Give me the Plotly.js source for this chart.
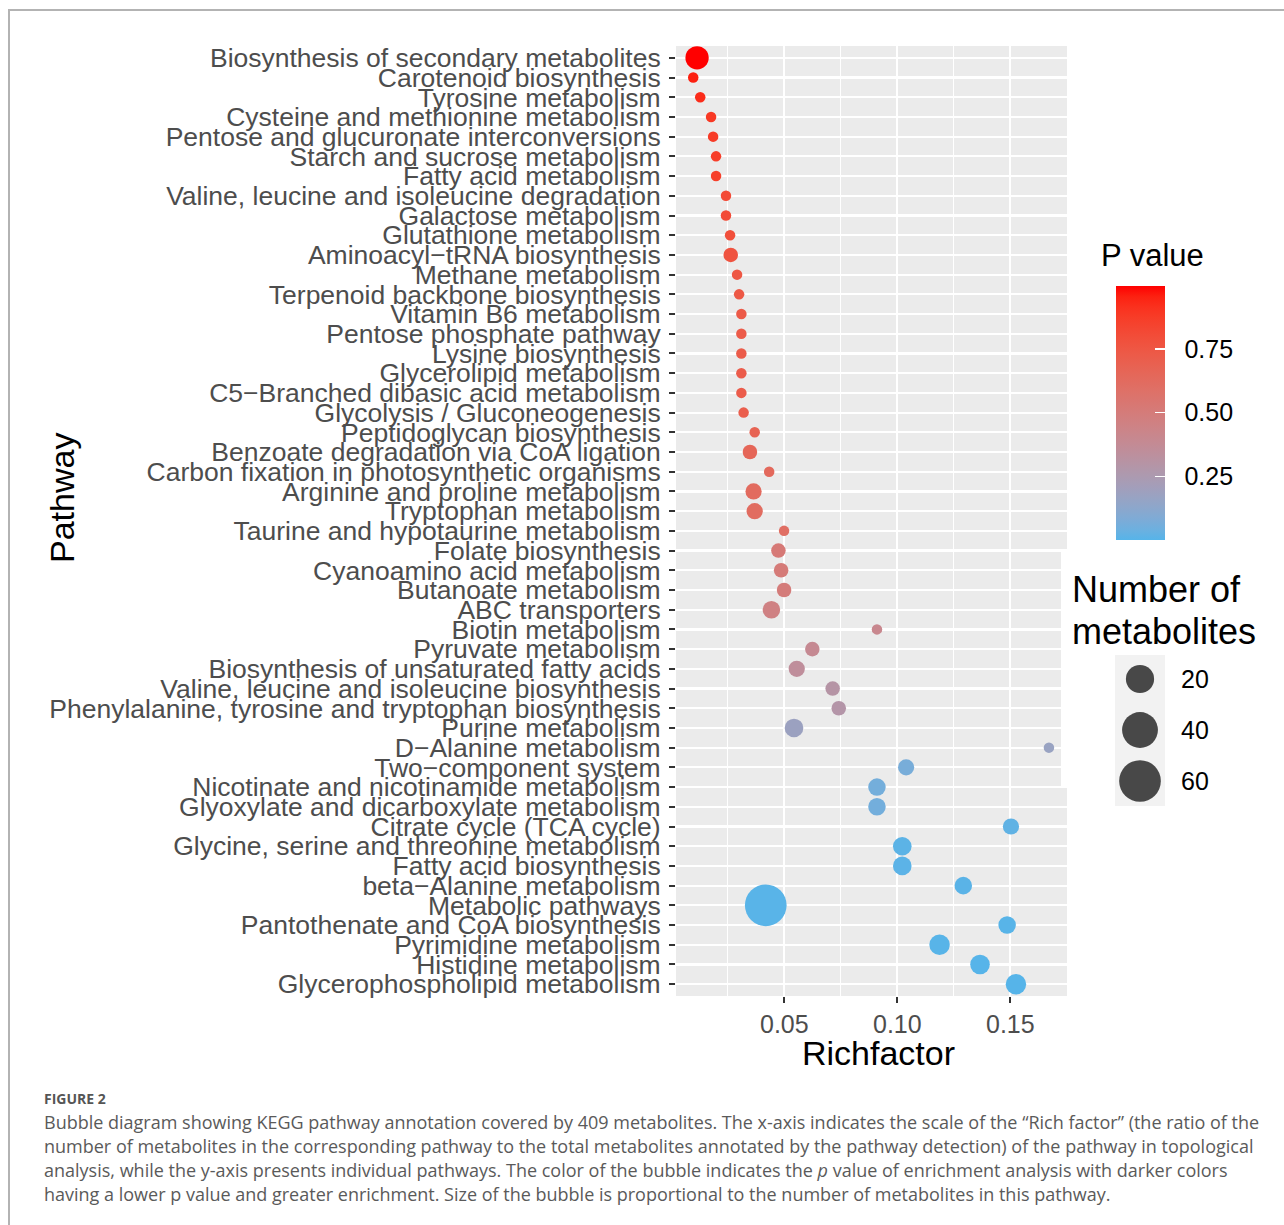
<!DOCTYPE html>
<html>
<head>
<meta charset="utf-8">
<script src="https://cdn.plot.ly/plotly-3.0.1.min.js"></script>
<style>
  html, body { margin: 0; padding: 0; background: #ffffff; }
  #wrap { position: relative; width: 1284px; height: 1225px; overflow: hidden; }
  #frame { position: absolute; left: 8px; top: 9px; width: 1400px; height: 1400px;
           border-left: 2px solid #B3B3B3; border-top: 2px solid #B3B3B3; }
  #chart { position: absolute; left: 0; top: 0; width: 1284px; height: 1225px; }
</style>
</head>
<body>
<div id="wrap"><div id="frame"></div><div id="chart"></div></div>
<script>
// KEGG pathways, listed from the top row of the chart to the bottom row
const pathways = [
  "Biosynthesis of secondary metabolites",
  "Carotenoid biosynthesis",
  "Tyrosine metabolism",
  "Cysteine and methionine metabolism",
  "Pentose and glucuronate interconversions",
  "Starch and sucrose metabolism",
  "Fatty acid metabolism",
  "Valine, leucine and isoleucine degradation",
  "Galactose metabolism",
  "Glutathione metabolism",
  "Aminoacyl\u2212tRNA biosynthesis",
  "Methane metabolism",
  "Terpenoid backbone biosynthesis",
  "Vitamin B6 metabolism",
  "Pentose phosphate pathway",
  "Lysine biosynthesis",
  "Glycerolipid metabolism",
  "C5\u2212Branched dibasic acid metabolism",
  "Glycolysis / Gluconeogenesis",
  "Peptidoglycan biosynthesis",
  "Benzoate degradation via CoA ligation",
  "Carbon fixation in photosynthetic organisms",
  "Arginine and proline metabolism",
  "Tryptophan metabolism",
  "Taurine and hypotaurine metabolism",
  "Folate biosynthesis",
  "Cyanoamino acid metabolism",
  "Butanoate metabolism",
  "ABC transporters",
  "Biotin metabolism",
  "Pyruvate metabolism",
  "Biosynthesis of unsaturated fatty acids",
  "Valine, leucine and isoleucine biosynthesis",
  "Phenylalanine, tyrosine and tryptophan biosynthesis",
  "Purine metabolism",
  "D\u2212Alanine metabolism",
  "Two\u2212component system",
  "Nicotinate and nicotinamide metabolism",
  "Glyoxylate and dicarboxylate metabolism",
  "Citrate cycle (TCA cycle)",
  "Glycine, serine and threonine metabolism",
  "Fatty acid biosynthesis",
  "beta\u2212Alanine metabolism",
  "Metabolic pathways",
  "Pantothenate and CoA biosynthesis",
  "Pyrimidine metabolism",
  "Histidine metabolism",
  "Glycerophospholipid metabolism"
];

// Rich factor of each pathway
const richFactor = [
  0.0114, 0.0097, 0.0128, 0.0176, 0.0185, 0.0198, 0.0198, 0.0242, 0.0242, 0.0260,
  0.0263, 0.0291, 0.0300, 0.0310, 0.0310, 0.0310, 0.0310, 0.0310, 0.0320, 0.0369,
  0.0348, 0.0433, 0.0364, 0.0369, 0.0499, 0.0474, 0.0486, 0.0499, 0.0443, 0.0910,
  0.0624, 0.0555, 0.0714, 0.0741, 0.0543, 0.1671, 0.1039, 0.0910, 0.0910, 0.1503,
  0.1022, 0.1022, 0.1292, 0.0418, 0.1486, 0.1187, 0.1366, 0.1525
];

// Number of metabolites hit in each pathway
const metaboliteCount = [
  11, 1, 1, 1, 1, 1, 1, 1, 1, 1,
  2, 1, 1, 1, 1, 1, 1, 1, 1, 1,
  2, 1, 3, 3, 1, 2, 2, 2, 4, 1,
  2, 3, 2, 2, 5, 1, 3, 4, 4, 3,
  5, 5, 4, 60, 4, 7, 6, 7
];

// Enrichment p value of each pathway
const pValue = [
  1.000, 0.960, 0.930, 0.890, 0.880, 0.870, 0.865, 0.815, 0.810, 0.790,
  0.770, 0.750, 0.740, 0.730, 0.725, 0.722, 0.720, 0.718, 0.710, 0.680,
  0.660, 0.640, 0.625, 0.620, 0.600, 0.520, 0.510, 0.500, 0.460, 0.410,
  0.390, 0.350, 0.300, 0.290, 0.180, 0.170, 0.070, 0.060, 0.058, 0.020,
  0.012, 0.011, 0.008, 0.006, 0.005, 0.004, 0.002, 0.001
];

// Axis and legend breaks
const xTicks = [0.05, 0.10, 0.15];
const xMinorTicks = [0.025, 0.075, 0.125, 0.175];
const pTicks = [0.25, 0.50, 0.75];
const sizeBreaks = [20, 40, 60];

const captionHead = "FIGURE 2";
const captionLines = [
  "Bubble diagram showing KEGG pathway annotation covered by 409 metabolites. The x-axis indicates the scale of the \u201cRich factor\u201d (the ratio of the",
  "number of metabolites in the corresponding pathway to the total metabolites annotated by the pathway detection) of the pathway in topological",
  "analysis, while the y-axis presents individual pathways. The color of the bubble indicates the <i>p</i> value of enrichment analysis with darker colors",
  "having a lower p value and greater enrichment. Size of the bubble is proportional to the number of metabolites in this pathway."
];

// ---- colour ramp: low -> high interpolated in CIELAB ----
const lowColor = "#56B4E9";
const highColor = "#FF0000";
function hexToRgb(h) { const v = parseInt(h.slice(1), 16); return [(v >> 16) & 255, (v >> 8) & 255, v & 255]; }
function toLab(rgb) {
  const lin = c => { c /= 255; return c <= 0.04045 ? c / 12.92 : Math.pow((c + 0.055) / 1.055, 2.4); };
  const R = lin(rgb[0]), G = lin(rgb[1]), B = lin(rgb[2]);
  const X = (0.4124564 * R + 0.3575761 * G + 0.1804375 * B) / 0.95047;
  const Y = (0.2126729 * R + 0.7151522 * G + 0.0721750 * B);
  const Z = (0.0193339 * R + 0.1191920 * G + 0.9503041 * B) / 1.08883;
  const f = t => t > 0.008856 ? Math.cbrt(t) : 7.787 * t + 16 / 116;
  const fx = f(X), fy = f(Y), fz = f(Z);
  return [116 * fy - 16, 500 * (fx - fy), 200 * (fy - fz)];
}
function fromLab(lab) {
  const fy = (lab[0] + 16) / 116, fx = fy + lab[1] / 500, fz = fy - lab[2] / 200;
  const fi = t => { const t3 = t * t * t; return t3 > 0.008856 ? t3 : (t - 16 / 116) / 7.787; };
  const X = fi(fx) * 0.95047, Y = fi(fy), Z = fi(fz) * 1.08883;
  const R = 3.2404542 * X - 1.5371385 * Y - 0.4985314 * Z;
  const G = -0.9692660 * X + 1.8760108 * Y + 0.0415560 * Z;
  const B = 0.0556434 * X - 0.2040259 * Y + 1.0572252 * Z;
  const g = v => { v = v <= 0.0031308 ? 12.92 * v : 1.055 * Math.pow(v, 1 / 2.4) - 0.055;
                   return Math.round(Math.min(1, Math.max(0, v)) * 255); };
  return "rgb(" + g(R) + "," + g(G) + "," + g(B) + ")";
}
const labLow = toLab(hexToRgb(lowColor)), labHigh = toLab(hexToRgb(highColor));
const colorscale = [];
for (let i = 0; i <= 24; i++) {
  const t = i / 24;
  colorscale.push([t, fromLab(labLow.map((v, k) => v + (labHigh[k] - v) * t))]);
}

// ---- bubble size: area scale between a minimum and maximum diameter ----
const D_MIN = 10.5, D_MAX = 41.7;
const nMin = Math.min(...metaboliteCount), nMax = Math.max(...metaboliteCount);
const diameter = n => D_MIN + (D_MAX - D_MIN) * Math.sqrt(Math.max(0, n - nMin) / (nMax - nMin));

// ---- page geometry helpers (figure pixels -> paper fractions) ----
const FW = 1284, FH = 1225;
const fx = px => px / FW;
const fy = py => 1 - py / FH;

const axisFont = "Liberation Sans, Arial, Helvetica, sans-serif";
const captionFont = "Open Sans, Lato, sans-serif";

const bubbles = {
  type: "scatter",
  mode: "markers",
  x: richFactor,
  y: pathways,
  xaxis: "x", yaxis: "y",
  marker: {
    size: metaboliteCount.map(diameter),
    sizemode: "diameter",
    color: pValue,
    cmin: Math.min(...pValue),
    cmax: Math.max(...pValue),
    colorscale: colorscale,
    opacity: 1,
    line: { width: 0 },
    showscale: true,
    colorbar: {
      x: fx(1116), xanchor: "left", xref: "paper", xpad: 0,
      y: fy(412.6), yanchor: "middle", yref: "paper", ypad: 0,
      len: 254, lenmode: "pixels",
      thickness: 49, thicknessmode: "pixels",
      outlinewidth: 0,
      tickmode: "array",
      tickvals: pTicks,
      ticktext: pTicks.map(v => "\u00a0\u00a0" + v.toFixed(2)),
      ticks: "inside", ticklen: 10, tickwidth: 1.5, tickcolor: "#ffffff",
      tickfont: { family: axisFont, size: 25, color: "#000000" },
      title: { text: "" }
    }
  },
  hoverinfo: "skip",
  showlegend: false
};

const sizeKeys = {
  type: "scatter",
  mode: "markers",
  x: sizeBreaks.map(() => 0),
  y: sizeBreaks.map(String),
  xaxis: "x2", yaxis: "y2",
  marker: { size: sizeBreaks.map(diameter), color: "#000000", line: { width: 0 } },
  hoverinfo: "skip",
  showlegend: false
};

const annotations = [
  { text: "Pathway", x: fx(62), y: fy(498), textangle: -90 , font: { family: axisFont, size: 34, color: "#000" } },
  { text: "Richfactor", x: fx(878), y: fy(1053), font: { family: axisFont, size: 34, color: "#000" } },
  { text: "P value", x: fx(1099), y: fy(255), xanchor: "left", font: { family: axisFont, size: 31, color: "#000" } },
  { text: "Number of", x: fx(1070), y: fy(589), xanchor: "left", font: { family: axisFont, size: 36, color: "#000" } },
  { text: "metabolites", x: fx(1070), y: fy(631), xanchor: "left", font: { family: axisFont, size: 36, color: "#000" } },
  { text: "<b>" + captionHead + "</b>", x: fx(42), y: fy(1098), xanchor: "left", font: { family: captionFont, size: 14, color: "#555555" } }
].concat(captionLines.map((line, i) => ({
  text: line, x: fx(42), y: fy(1122 + 24 * i), xanchor: "left",
  font: { family: captionFont, size: 18, color: "#5a5a5a" }
}))).map(a => Object.assign({ xref: "paper", yref: "paper", showarrow: false, yanchor: "middle", xanchor: "center" }, a));

const layout = {
  width: FW, height: FH,
  margin: { l: 0, r: 0, t: 0, b: 0 },
  paper_bgcolor: "rgba(0,0,0,0)",
  plot_bgcolor: "#EBEBEB",
  showlegend: false,
  hovermode: false,
  xaxis: {
    domain: [fx(676), fx(1067)],
    anchor: "y",
    range: [0.00208, 0.17509],
    tickmode: "array",
    tickvals: xTicks,
    ticktext: xTicks.map(v => v.toFixed(2)),
    ticks: "outside", ticklen: 6, tickwidth: 2, tickcolor: "#333333",
    tickfont: { family: axisFont, size: 25, color: "#4D4D4D" },
    showgrid: true, gridcolor: "#ffffff", gridwidth: 2.2,
    minor: { tickmode: "array", tickvals: xMinorTicks, showgrid: true, gridcolor: "#ffffff", gridwidth: 1.2, ticks: "" },
    zeroline: false, showline: false, automargin: false, fixedrange: true
  },
  yaxis: {
    domain: [fy(996), fy(46)],
    anchor: "x",
    type: "category",
    categoryorder: "array",
    categoryarray: pathways,
    range: [pathways.length - 0.4, -0.6],
    tickmode: "array",
    tickvals: pathways,
    ticktext: pathways,
    ticks: "outside", ticklen: 6, tickwidth: 2, tickcolor: "#333333",
    ticklabelstandoff: 3,
    tickfont: { family: axisFont, size: 26.5, color: "#4D4D4D" },
    showgrid: true, gridcolor: "#ffffff", gridwidth: 2.2,
    zeroline: false, showline: false, automargin: false, fixedrange: true
  },
  xaxis2: {
    domain: [fx(1115), fx(1165)],
    anchor: "y2",
    range: [-1, 1],
    visible: false, fixedrange: true
  },
  yaxis2: {
    domain: [fy(806), fy(655)],
    anchor: "x2",
    type: "category",
    categoryorder: "array",
    categoryarray: sizeBreaks.map(String),
    range: [sizeBreaks.length - 0.51, -0.47],
    side: "right",
    ticks: "", ticklabelstandoff: 15,
    tickfont: { family: axisFont, size: 25, color: "#000000" },
    showgrid: false, zeroline: false, showline: false, automargin: false, fixedrange: true
  },
  shapes: [
    // key background of the size legend
    { type: "rect", xref: "x2 domain", yref: "y2 domain", x0: 0, x1: 1, y0: 0, y1: 1,
      fillcolor: "#F2F2F2", line: { width: 0 }, layer: "below" },
    // legend box overlapping the right edge of the panel
    { type: "rect", xref: "paper", yref: "paper", x0: fx(1061), x1: fx(1068), y0: fy(787), y1: fy(550),
      fillcolor: "#ffffff", line: { width: 0 }, layer: "above" }
  ],
  annotations: annotations
};

Plotly.newPlot("chart", [bubbles, sizeKeys], layout, { staticPlot: true, displayModeBar: false });
</script>
</body>
</html>
